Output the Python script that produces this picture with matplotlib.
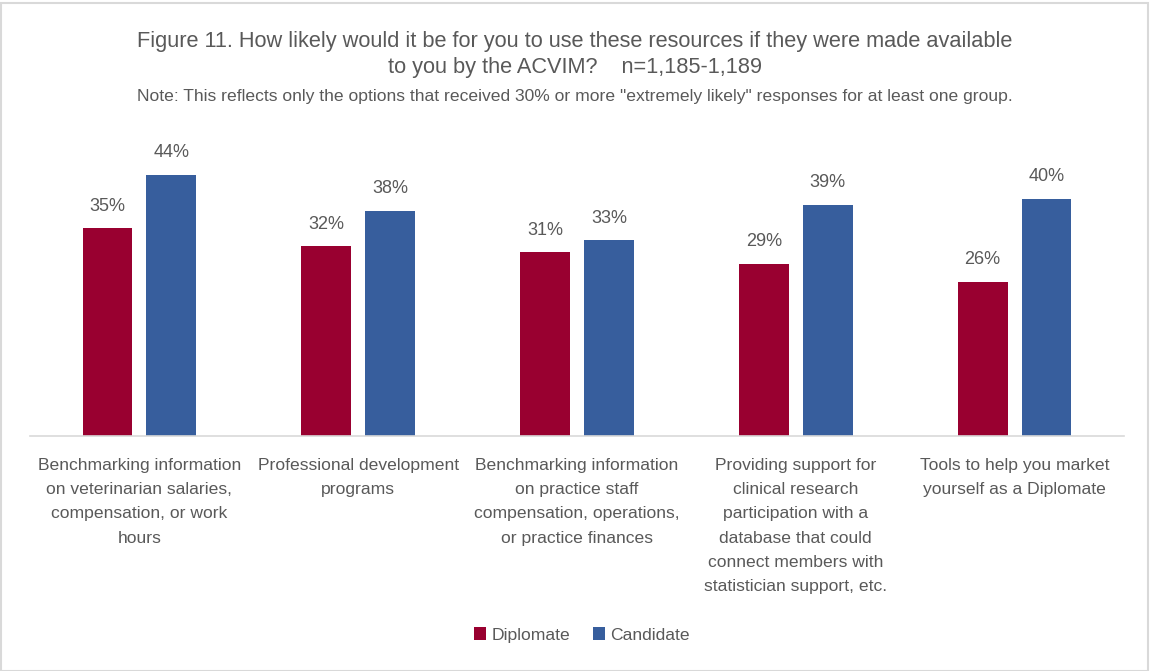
import matplotlib
matplotlib.use("Agg")
import matplotlib.pyplot as plt
from matplotlib.patches import Rectangle
import numpy as np

plt.rcParams['font.family'] = ['Liberation Sans', 'DejaVu Sans']

categories = [
    "Benchmarking information\non veterinarian salaries,\ncompensation, or work\nhours",
    "Professional development\nprograms",
    "Benchmarking information\non practice staff\ncompensation, operations,\nor practice finances",
    "Providing support for\nclinical research\nparticipation with a\ndatabase that could\nconnect members with\nstatistician support, etc.",
    "Tools to help you market\nyourself as a Diplomate",
]
series_names = ["Diplomate", "Candidate"]
diplomate = [35, 32, 31, 29, 26]
candidate = [44, 38, 33, 39, 40]
colors = ["#990030", "#375E9D"]
text_color = "#595959"

fig = plt.figure(figsize=(11.5, 6.71), dpi=100)
W, H = 1150, 671
ax = fig.add_axes([30 / W, 1 - 436 / H, (1124 - 30) / W, (436 - 115) / H])

x = np.arange(len(categories))
width = 0.228
offset = 0.146
for vals, col, off, name in zip([diplomate, candidate], colors, [-offset, offset], series_names):
    bars = ax.bar(x + off, vals, width, color=col, label=name, zorder=2)
    for b, v in zip(bars, vals):
        ax.text(b.get_x() + b.get_width() / 2, v + 2.3, f"{v}%", ha="center", va="bottom",
                fontsize=13, color=text_color)

ax.set_xlim(-0.5, len(categories) - 0.5)
ax.set_ylim(0, (436 - 115) / 5.93)
ax.set_yticks([])
ax.set_xticks(x)
ax.set_xticklabels(categories, fontsize=12.6, color=text_color, linespacing=1.76, va="top")
ax.tick_params(axis="x", length=0, pad=16)
for s in ["top", "right", "left"]:
    ax.spines[s].set_visible(False)
ax.spines["bottom"].set_color("#D9D9D9")
ax.spines["bottom"].set_linewidth(1.2)

fig.text(0.5, 1 - 41 / H, "Figure 11. How likely would it be for you to use these resources if they were made available",
         ha="center", va="center", fontsize=15.7, color=text_color)
fig.text(0.5, 1 - 68 / H, "to you by the ACVIM?    n=1,185-1,189",
         ha="center", va="center", fontsize=15.7, color=text_color)
fig.text(0.5, 1 - 96 / H,
         'Note: This reflects only the options that received 30% or more "extremely likely" responses for at least one group.',
         ha="center", va="center", fontsize=12.6, color=text_color)

leg = fig.legend(loc="center", bbox_to_anchor=(582 / W, 1 - 635 / H), ncol=2, frameon=False,
                 fontsize=12.6, handlelength=0.7, handleheight=0.7, handletextpad=0.3, columnspacing=1.3)
for t in leg.get_texts():
    t.set_color(text_color)

fig.patches.append(Rectangle((0.5 / W, 0.5 / H), 1 - 3 / W, 1 - 3 / H, transform=fig.transFigure,
                             fill=False, edgecolor="#D9D9D9", linewidth=1.5))

fig.savefig("out.png", dpi=100, facecolor="white")
